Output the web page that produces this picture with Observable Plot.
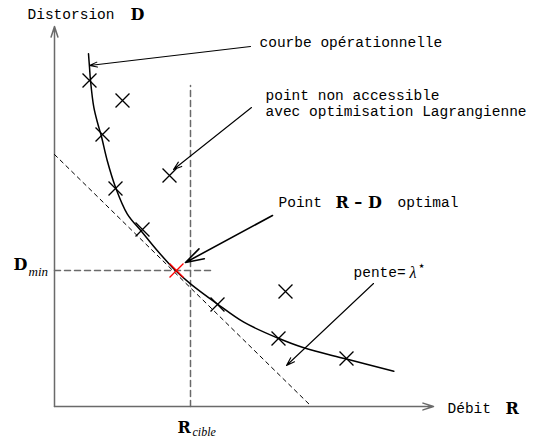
<!DOCTYPE html>
<html><head><meta charset="utf-8">
<script src="https://cdn.jsdelivr.net/npm/d3@7"></script>
<script src="https://cdn.jsdelivr.net/npm/@observablehq/plot@0.6"></script>
<style>body{margin:0;background:#fff}</style>
</head><body><div id="chart"></div>
<script>
// Operating points (rate R, distortion D) on the operational curve
const onCurveR = [3.5, 4.8, 6.1, 8.8, 16.3, 22.4, 29.2];
const onCurveD = [32.6, 27.2, 21.8, 17.7, 10.2, 6.8, 4.8];
// Points off the curve
const offCurveR = [6.8, 11.5, 23.1];
const offCurveD = [30.6, 23.1, 11.5];
// Optimal R-D point
const optimalR = [12.2];
const optimalD = [13.6];
// Operational curve
const curveR = [3.40, 3.50, 3.60, 3.93, 4.33, 4.67, 5.27, 6.10, 7.27, 8.77, 10.27, 12.10, 13.60, 16.27, 18.93, 22.27, 24.93, 29.10, 33.93];
const curveD = [35.27, 33.93, 32.60, 29.93, 28.27, 27.10, 24.60, 21.93, 19.27, 17.43, 15.60, 13.60, 12.27, 10.27, 8.43, 6.87, 5.87, 4.77, 3.53];
// Tangent (slope lambda*)
const tangentR = [0, 25.7];
const tangentD = [25.2, 0];
// Target rate / minimal distortion
const Rcible = 13.6, RcibleTop = 32.1;
const Dmin = 13.6, DminRight = 15.7;
// Axes extents
const axisRmax = 37.9, axisDmax = 38.0;
// Annotation arrows: [from R, from D, to R, to D]
const arrowCourbe = [19.6, 36.0, 3.5, 34.1];
const arrowNonAcc = [19.7, 29.9, 11.9, 23.7];
const arrowOptimal = [21.8, 19.1, 13.1, 14.4];
const arrowPente = [31.9, 12.3, 23.2, 4.1];
// Label texts and anchors (R, D)
const monoLabels = [
  {R: -2.7, D: 39.2, t: "Distorsion"},
  {R: 20.5, D: 36.4, t: "courbe opérationnelle"},
  {R: 21.1, D: 31.15, t: "point non accessible"},
  {R: 21.1, D: 29.55, t: "avec optimisation Lagrangienne"},
  {R: 22.4, D: 20.4, t: "Point"},
  {R: 34.3, D: 20.4, t: "optimal"},
  {R: 29.9, D: 13.4, t: "pente="},
  {R: 39.3, D: -0.2, t: "Débit"}
];
const boldLabels = [
  {R: 7.6, D: 39.2, t: "D"},
  {R: 28.1, D: 20.4, t: "R – D"},
  {R: 45.1, D: -0.2, t: "R"},
  {R: -4.1, D: 14.2, t: "D"},
  {R: 12.3, D: -2.1, t: "R"}
];
const minLabel = [{R: -2.6, D: 13.5, t: "min"}];
const cibleLabel = [{R: 13.8, D: -2.6, t: "cible"}];
const lambdaLabel = [{R: 35.5, D: 13.4, t: "λ"}];
const starLabel = [{R: 36.3, D: 14.1, t: "⋆"}];

const pts = (R, D) => R.map((r, i) => ({R: r, D: D[i]}));
const arr = (a) => [{R1: a[0], D1: a[1], R2: a[2], D2: a[3]}];
const mono = "Liberation Mono";
const gray = "#6a6a6a";

const chart = Plot.plot({
  width: 543, height: 438,
  marginLeft: 54, marginRight: 0, marginTop: 0, marginBottom: 32,
  x: {domain: [0, 48.9], axis: null},
  y: {domain: [0, 40.6], axis: null},
  style: {background: "white"},
  marks: [
    // axes
    Plot.arrow([{R1: 0, D1: 0, R2: 0, D2: axisDmax}, {R1: 0, D1: 0, R2: axisRmax, D2: 0}],
      {x1: "R1", y1: "D1", x2: "R2", y2: "D2", stroke: gray, strokeWidth: 1.5, headLength: 11, headAngle: 36}),
    // reference dashed lines
    Plot.line(pts([Rcible, Rcible], [0, RcibleTop]), {x: "R", y: "D", stroke: gray, strokeWidth: 1.5, strokeDasharray: "6,4"}),
    Plot.line(pts([0, DminRight], [Dmin, Dmin]), {x: "R", y: "D", stroke: gray, strokeWidth: 1.5, strokeDasharray: "6,4"}),
    // tangent
    Plot.line(pts(tangentR, tangentD), {x: "R", y: "D", stroke: "black", strokeWidth: 1, strokeDasharray: "4,4"}),
    // operational curve
    Plot.line(pts(curveR, curveD), {x: "R", y: "D", stroke: "black", strokeWidth: 1.5, curve: "catmull-rom"}),
    // points
    Plot.dot(pts(onCurveR, onCurveD).concat(pts(offCurveR, offCurveD)), {x: "R", y: "D", symbol: "times", r: 6.4, stroke: "black", strokeWidth: 1.3}),
    Plot.dot(pts(optimalR, optimalD), {x: "R", y: "D", symbol: "times", r: 6.4, stroke: "red", strokeWidth: 1.3}),
    // annotation arrows
    Plot.arrow(arr(arrowCourbe), {x1: "R1", y1: "D1", x2: "R2", y2: "D2", stroke: "black", strokeWidth: 1.1, headLength: 11, headAngle: 36}),
    Plot.arrow(arr(arrowNonAcc), {x1: "R1", y1: "D1", x2: "R2", y2: "D2", stroke: "black", strokeWidth: 1.1, headLength: 12, headAngle: 36}),
    Plot.arrow(arr(arrowOptimal), {x1: "R1", y1: "D1", x2: "R2", y2: "D2", stroke: "black", strokeWidth: 1.6, headLength: 18, headAngle: 34}),
    Plot.arrow(arr(arrowPente), {x1: "R1", y1: "D1", x2: "R2", y2: "D2", stroke: "black", strokeWidth: 1.1, headLength: 12, headAngle: 36}),
    // labels
    Plot.text(monoLabels, {x: "R", y: "D", text: "t", textAnchor: "start", fontFamily: mono, fontSize: 14.5, fill: "black"}),
    Plot.text(boldLabels, {x: "R", y: "D", text: "t", textAnchor: "start", fontFamily: "DejaVu Serif", fontWeight: "bold", fontSize: 16, fill: "black"}),
    Plot.text(minLabel, {x: "R", y: "D", text: "t", textAnchor: "start", fontFamily: "Liberation Serif", fontStyle: "italic", fontSize: 13, fill: "black"}),
    Plot.text(cibleLabel, {x: "R", y: "D", text: "t", textAnchor: "start", fontFamily: "Liberation Serif", fontStyle: "italic", fontSize: 12, fill: "black"}),
    Plot.text(lambdaLabel, {x: "R", y: "D", text: "t", textAnchor: "start", fontFamily: "Liberation Serif", fontStyle: "italic", fontSize: 16, fill: "black"}),
    Plot.text(starLabel, {x: "R", y: "D", text: "t", textAnchor: "start", fontFamily: "DejaVu Sans", fontSize: 13, fill: "black"})
  ]
});
document.getElementById("chart").appendChild(chart);
</script>
</body></html>
